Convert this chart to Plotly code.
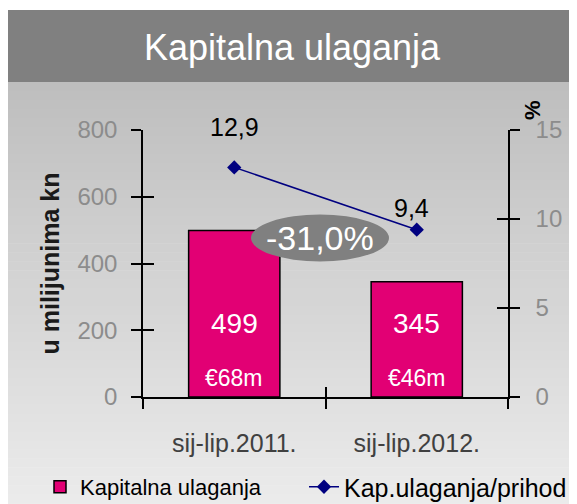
import plotly.graph_objects as go

# ---------------- data ----------------
categories = ["sij-lip.2011.", "sij-lip.2012."]
capex = [499, 345]
capex_eur = ["€68m", "€46m"]
capex_ratio = [12.9, 9.4]
ratio_labels = ["12,9", "9,4"]
change_label = "-31,0%"
left_ticks = [0, 200, 400, 600, 800]
right_ticks = [0, 5, 10, 15]

# ---------------- style ----------------
FONT = "Liberation Sans, Arial, sans-serif"
MAGENTA = "#E20074"
NAVY = "#000080"
W, H = 577, 504
OFF = 8  # page body margin
L, R, T, B = 135, 77, 122, 115
PW, PH = W - L - R, H - T - B


def px(xs):
    """screen x -> paper x"""
    return (xs - OFF - L) / PW


def py(ys):
    """screen y -> paper y"""
    return (H - B - (ys - OFF)) / PH


fig = go.Figure()
fig.add_trace(go.Bar(
    x=categories, y=capex, name="Kapitalna ulaganja", width=0.5, legend="legend",
    marker=dict(color=MAGENTA, line=dict(color="black", width=1.5)),
    hoverinfo="x+y",
))
fig.add_trace(go.Scatter(
    x=categories, y=capex_ratio, yaxis="y2", mode="lines+markers", legend="legend2",
    name="Kap.ulaganja/prihod",
    line=dict(color=NAVY, width=1.5),
    marker=dict(symbol="diamond", size=11, color=NAVY),
))
# helper traces so the overlay axes (inner halves of the cross ticks) render
for xa, ya in (("x2", "y"), ("x", "y3"), ("x", "y4")):
    fig.add_trace(go.Scatter(x=categories, y=[None, None], xaxis=xa, yaxis=ya,
                             showlegend=False, hoverinfo="skip", mode="markers"))

shapes = []
# title bar
shapes.append(dict(type="rect", xref="paper", yref="paper", x0=px(OFF), x1=px(W + OFF),
                   y0=py(82), y1=py(10), fillcolor="#808080", line=dict(width=0), layer="below"))
# gradient background
n = 48
top, bot = 82, H + OFF
c0, c1 = 190, 236
for i in range(n):
    y_a = top + (bot - top) * i / n
    y_b = top + (bot - top) * (i + 1) / n + 0.6
    c = round(c0 + (c1 - c0) * (i + 0.5) / n)
    shapes.append(dict(type="rect", xref="paper", yref="paper", x0=px(OFF), x1=px(W + OFF),
                       y0=py(y_b), y1=py(y_a),
                       fillcolor=f"rgb({c},{c},{c})", line=dict(width=0), layer="below"))
# ellipse for change label
shapes.append(dict(type="circle", xref="paper", yref="paper", x0=px(251), x1=px(389),
                   y0=py(261.5), y1=py(214.5), fillcolor="#808080", line=dict(width=0), layer="above"))

annotations = []
for c, v, e in zip(categories, capex, capex_eur):
    annotations.append(dict(x=c, y=0, xref="x", yref="y", text=str(v), showarrow=False,
                            yshift=74, font=dict(family=FONT, size=28, color="white")))
    annotations.append(dict(x=c, y=0, xref="x", yref="y", text=e, showarrow=False,
                            yshift=19, font=dict(family=FONT, size=23, color="white")))
shifts = [(0, 40), (-5, 22)]
for c, v, t, (dx, dy) in zip(categories, capex_ratio, ratio_labels, shifts):
    annotations.append(dict(x=c, y=v, xref="x", yref="y2", text=t, showarrow=False,
                            xshift=dx, yshift=dy, font=dict(family=FONT, size=25, color="black")))
annotations.append(dict(x=px(320), y=py(238), xref="paper", yref="paper", text=change_label,
                        xanchor="center", yanchor="middle",
                        showarrow=False, font=dict(family=FONT, size=34, color="white")))
annotations.append(dict(x=px(532), y=py(110), xref="paper", yref="paper", text="<b>%</b>",
                        xanchor="center", yanchor="middle",
                        textangle=-90, showarrow=False, font=dict(family=FONT, size=22, color="black")))

tick_common = dict(tickwidth=1.5, tickcolor="black", showgrid=False, zeroline=False, fixedrange=True)
legend_common = dict(orientation="h", xref="paper", yref="paper", xanchor="left", yanchor="middle",
                     bgcolor="rgba(0,0,0,0)", borderwidth=0)

fig.update_layout(
    width=W, height=H,
    margin=dict(l=L, r=R, t=T, b=B, pad=0, autoexpand=False),
    paper_bgcolor="white", plot_bgcolor="rgba(0,0,0,0)",
    font=dict(family=FONT, color="black"),
    title=dict(text="Kapitalna ulaganja", x=(292 - OFF) / W, xref="container", xanchor="center",
               y=1 - (47 - OFF) / H, yref="container", yanchor="middle",
               font=dict(family=FONT, size=36, color="white")),
    showlegend=True,
    legend=dict(x=px(40), y=py(487), font=dict(family=FONT, size=22, color="black"), **legend_common),
    legend2=dict(x=px(304), y=py(487), font=dict(family=FONT, size=25, color="black"), **legend_common),
    xaxis=dict(type="category", categoryorder="array", categoryarray=categories, range=[-0.5, 1.5],
               tickson="boundaries", ticks="outside", ticklen=10, showline=True, linecolor="black",
               linewidth=1.5, tickfont=dict(family=FONT, size=25, color="#404040"),
               ticklabelstandoff=23, **tick_common),
    xaxis2=dict(type="category", categoryorder="array", categoryarray=categories, range=[-0.5, 1.5],
                overlaying="x", anchor="y", side="bottom",
                tickson="boundaries", ticks="inside", ticklen=10, showline=False,
                showticklabels=False, **tick_common),
    yaxis=dict(range=[0, 800], tickvals=left_ticks, ticks="outside", ticklen=10, showline=True,
               linecolor="black", linewidth=1.5, tickfont=dict(family=FONT, size=24, color="#8c8c8c"),
               ticklabelstandoff=9,
               title=dict(text="<b>u milijunima kn</b>", standoff=11,
                          font=dict(family=FONT, size=25, color="#1a1a1a")),
               **tick_common),
    yaxis2=dict(range=[0, 15], tickvals=right_ticks, overlaying="y", side="right", anchor="x",
                ticks="outside", ticklen=10, showline=True, linecolor="black", linewidth=1.5,
                tickfont=dict(family=FONT, size=24, color="#8c8c8c"), ticklabelstandoff=11,
                **tick_common),
    yaxis3=dict(range=[0, 800], tickvals=left_ticks, overlaying="y", side="left", anchor="x",
                ticks="inside", ticklen=11, showline=False, showticklabels=False, **tick_common),
    yaxis4=dict(range=[0, 15], tickvals=right_ticks, overlaying="y", side="right", anchor="x",
                ticks="inside", ticklen=11, showline=False, showticklabels=False, **tick_common),
    shapes=shapes,
    annotations=annotations,
)

fig.write_html("out.html")
